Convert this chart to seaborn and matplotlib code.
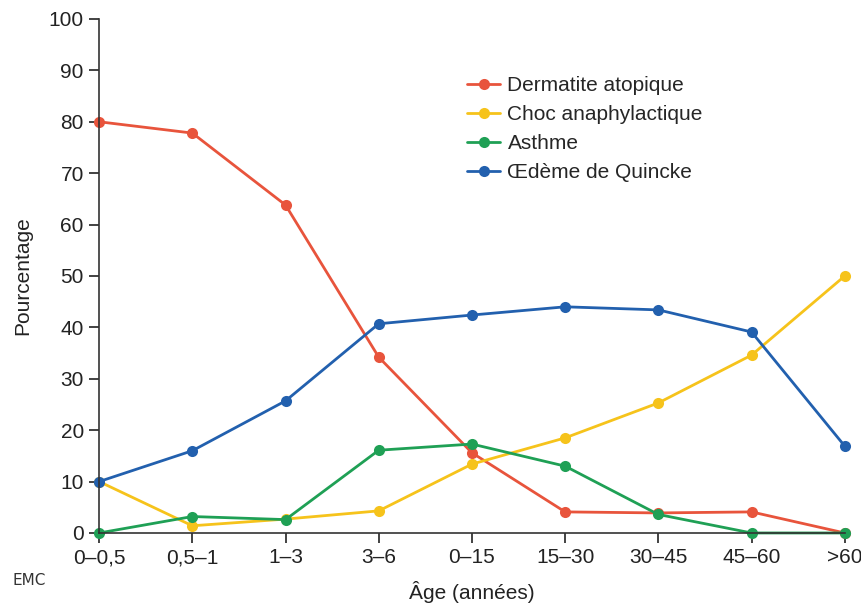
import matplotlib
matplotlib.use("Agg")
import matplotlib.pyplot as plt
import seaborn as sns
import pandas as pd

ages = ["0–0,5", "0,5–1", "1–3", "3–6", "0–15", "15–30", "30–45", "45–60", ">60"]
dermatite = [80, 77.8, 63.8, 34.2, 15.6, 4.1, 3.9, 4.1, 0]
choc = [10, 1.4, 2.7, 4.3, 13.4, 18.5, 25.3, 34.6, 50]
asthme = [0, 3.2, 2.6, 16.1, 17.3, 13.0, 3.6, 0, 0]
oedeme = [10, 16.0, 25.7, 40.7, 42.4, 44.0, 43.4, 39.1, 16.9]

series_names = ["Dermatite atopique", "Choc anaphylactique", "Asthme", "Œdème de Quincke"]
series_vals = [dermatite, choc, asthme, oedeme]
colors = ["#E8543C", "#F6C31B", "#1FA055", "#2260AE"]

rows = []
for name, vals in zip(series_names, series_vals):
    for i, v in enumerate(vals):
        rows.append({"pos": i, "val": v, "serie": name})
df = pd.DataFrame(rows)

sns.set_theme(style="ticks")
plt.rcParams['font.family'] = ['Liberation Sans', 'DejaVu Sans']

fig = plt.figure(figsize=(8.62, 6.08), dpi=100)
ax = fig.add_axes([0.115, 0.1234, 0.865, 0.8454])

sns.lineplot(data=df, x="pos", y="val", hue="serie", hue_order=series_names,
             palette=colors, marker="o", markersize=8, markeredgewidth=0,
             linewidth=2, sort=False, ax=ax, clip_on=False)

ax.set_xlim(0, 8)
ax.set_ylim(0, 100)
ax.set_xticks(range(len(ages)))
ax.set_xticklabels(ages)
ax.set_yticks(range(0, 101, 10))
ax.tick_params(axis="both", labelsize=15, colors="#222222", length=7, width=1.2,
               direction="out", pad=4)
for s in ["top", "right"]:
    ax.spines[s].set_visible(False)
for s in ["left", "bottom"]:
    ax.spines[s].set_color("#333333")
    ax.spines[s].set_linewidth(1.2)

ax.set_xlabel("Âge (années)", fontsize=15, color="#222222", labelpad=10)
ax.set_ylabel("Pourcentage", fontsize=15, color="#222222", labelpad=12)

leg = ax.legend(loc="upper left", bbox_to_anchor=(0.482, 0.905), frameon=False,
                fontsize=15, handlelength=1.6, handletextpad=0.35,
                labelspacing=0.48, title=None, borderaxespad=0)

fig.text(0.014, 0.038, "EMC", fontsize=11, color="#333333", family="Liberation Sans Narrow")

fig.savefig("out.png", dpi=100)
